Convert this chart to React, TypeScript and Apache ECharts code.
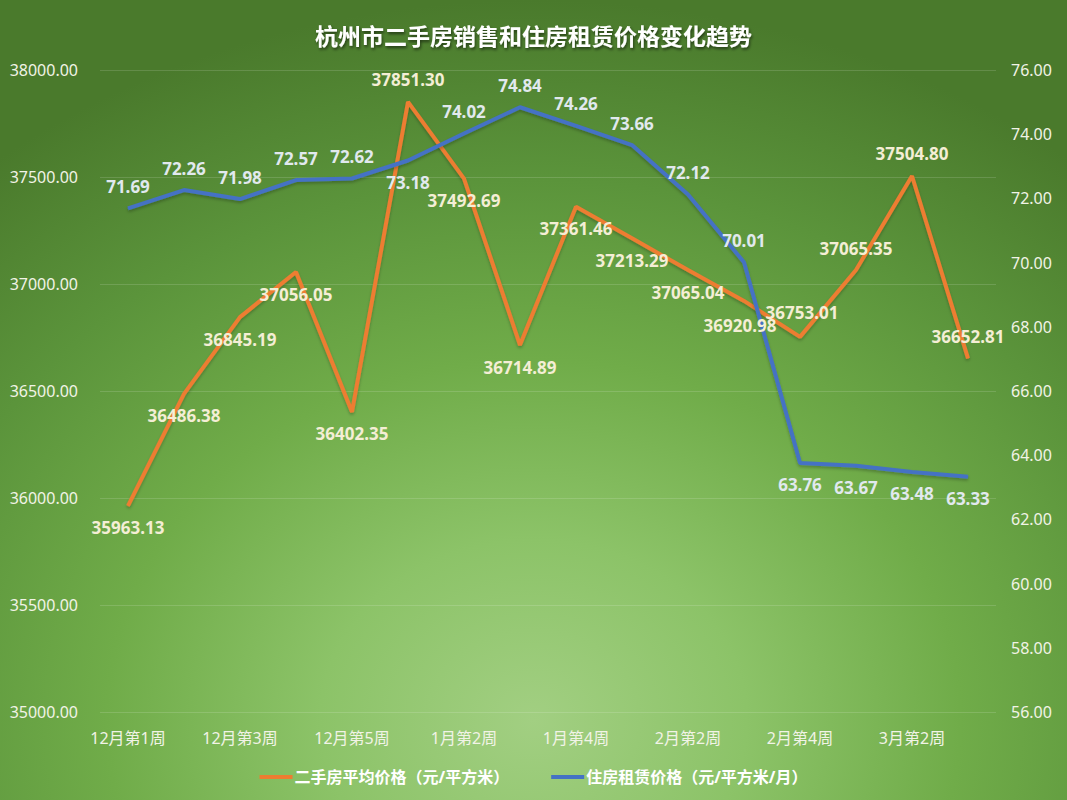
import React, { useEffect, useRef } from "react";
import * as echarts from "echarts";

const categories = [
  "12月第1周", "12月第2周", "12月第3周", "12月第4周", "12月第5周",
  "1月第1周", "1月第2周", "1月第3周", "1月第4周",
  "2月第1周", "2月第2周", "2月第3周", "2月第4周",
  "3月第1周", "3月第2周", "3月第3周",
];

const salePrice = [
  35963.13, 36486.38, 36845.19, 37056.05, 36402.35, 37851.3, 37492.69, 36714.89,
  37361.46, 37213.29, 37065.04, 36920.98, 36753.01, 37065.35, 37504.8, 36652.81,
];

const rentPrice = [
  71.69, 72.26, 71.98, 72.57, 72.62, 73.18, 74.02, 74.84,
  74.26, 73.66, 72.12, 70.01, 63.76, 63.67, 63.48, 63.33,
];

const saleLabelPos = [
  "bottom", "bottom", "bottom", "bottom", "bottom", "top", "bottom", "bottom",
  "bottom", "bottom", "bottom", "bottom", "top", "top", "top", "top",
];
const saleLabelShift = [
  [0, 0], [0, 0], [0, 0], [0, 0], [0, 0], [0, 0], [0, 0], [0, 0],
  [0, 0], [0, 0], [0, 0], [-4, 3], [2, -2], [0, 0], [0, 0], [0, 0],
];
const rentLabelPos = [
  "top", "top", "top", "top", "top", "bottom", "top", "top",
  "top", "top", "top", "top", "bottom", "bottom", "bottom", "bottom",
];

const saleName = "二手房平均价格（元/平方米）";
const rentName = "住房租赁价格（元/平方米/月）";

const FONT = '"Noto Sans", "Noto Sans CJK SC", sans-serif';

export default function App() {
  const ref = useRef<HTMLDivElement>(null);

  useEffect(() => {
    document.body.style.margin = "0";
    if (!ref.current) return;
    const chart = echarts.init(ref.current, undefined, { renderer: "svg" });
    const labelBase = {
      show: true,
      fontSize: 17,
      fontWeight: "bold" as const,
      fontFamily: FONT,
      distance: 13,
      formatter: (p: any) => Number(p.value).toFixed(2),
    };
    chart.setOption({
      animation: false,
      backgroundColor: "transparent",
      textStyle: { fontFamily: FONT },
      title: {
        text: "杭州市二手房销售和住房租赁价格变化趋势",
        left: "center",
        top: 19,
        textStyle: {
          color: "#ffffff",
          fontSize: 23,
          fontWeight: "bold",
          fontFamily: FONT,
          textShadowColor: "rgba(0,0,0,0.55)",
          textShadowBlur: 3,
          textShadowOffsetX: 1,
          textShadowOffsetY: 2,
        },
      },
      legend: {
        left: "center",
        top: 764,
        icon: "rect",
        itemWidth: 33,
        itemHeight: 4,
        itemGap: 42,
        textStyle: {
          color: "#ffffff",
          fontSize: 16,
          fontWeight: "bold",
          fontFamily: FONT,
          padding: [0, 0, 0, -3],
        },
        data: [
          { name: saleName, itemStyle: { color: "#ed7d31" } },
          { name: rentName, itemStyle: { color: "#4472c4" } },
        ],
      },
      grid: { left: 100, right: 71, top: 70, bottom: 88 },
      xAxis: {
        type: "category",
        data: categories,
        boundaryGap: true,
        axisLine: { show: false },
        axisTick: { show: false },
        axisLabel: {
          interval: 1,
          color: "#f1f3e6",
          fontSize: 16,
          margin: 18,
          fontFamily: FONT,
        },
      },
      yAxis: [
        {
          type: "value",
          min: 35000,
          max: 38000,
          interval: 500,
          axisLine: { show: false },
          axisTick: { show: false },
          splitLine: { lineStyle: { color: "rgba(255,255,255,0.14)", width: 1 } },
          axisLabel: {
            color: "#f1f3e6",
            fontSize: 16,
            margin: 22,
            fontFamily: FONT,
            formatter: (v: number) => v.toFixed(2),
          },
        },
        {
          type: "value",
          min: 56,
          max: 76,
          interval: 2,
          axisLine: { show: false },
          axisTick: { show: false },
          splitLine: { show: false },
          axisLabel: {
            color: "#f1f3e6",
            fontSize: 16,
            margin: 15,
            fontFamily: FONT,
            formatter: (v: number) => v.toFixed(2),
          },
        },
      ],
      series: [
        {
          name: saleName,
          type: "line",
          yAxisIndex: 0,
          symbol: "circle",
          symbolSize: 1,
          itemStyle: { color: "#ed7d31" },
          lineStyle: {
            color: "#ed7d31",
            width: 4,
            shadowColor: "rgba(0,0,0,0.25)",
            shadowBlur: 3,
            shadowOffsetY: 2,
          },
          label: { ...labelBase, color: "#f4eed5" },
          data: salePrice.map((v, i) => ({
            value: v,
            label: { position: saleLabelPos[i], offset: saleLabelShift[i] },
          })),
        },
        {
          name: rentName,
          type: "line",
          yAxisIndex: 1,
          symbol: "circle",
          symbolSize: 1,
          itemStyle: { color: "#4472c4" },
          lineStyle: {
            color: "#4472c4",
            width: 4,
            shadowColor: "rgba(0,0,0,0.25)",
            shadowBlur: 3,
            shadowOffsetY: 2,
          },
          label: { ...labelBase, color: "#e1e9ee" },
          data: rentPrice.map((v, i) => ({
            value: v,
            label: { position: rentLabelPos[i] },
          })),
        },
      ],
    });
    return () => chart.dispose();
  }, []);

  return (
    <div
      ref={ref}
      style={{
        position: "absolute",
        left: 0,
        top: 0,
        width: 1067,
        height: 800,
        background:
          "radial-gradient(ellipse 80% 90% at 50% 90%, #a2cf82 0%, #8cc368 25%, #70ac49 50%, #5b943b 75%, #4a7a2c 100%)",
      }}
    />
  );
}
